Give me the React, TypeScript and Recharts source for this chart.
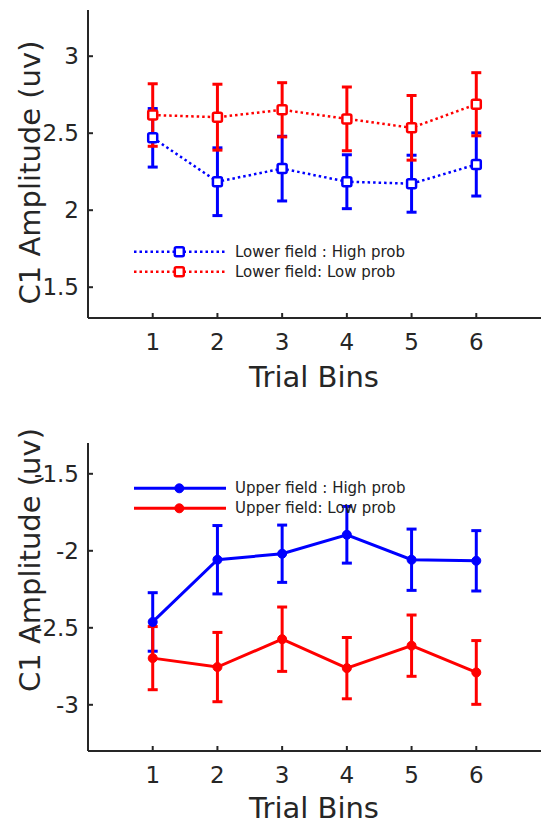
import React from 'react';
import { LineChart, Line, XAxis, YAxis, ErrorBar, Label } from 'recharts';

const FONT = '"DejaVu Sans", sans-serif';
const AXIS = '#262626';
const BLUE = '#0000ff';
const RED = '#ff0000';

// Trial bins (categories)
const bins = [1, 2, 3, 4, 5, 6];
const binTicks = [1, 2, 3, 4, 5, 6];

// Lower field (top panel)
const lowerHighMean = [2.47, 2.185, 2.27, 2.185, 2.172, 2.297];
const lowerHighErr = [0.19, 0.22, 0.21, 0.175, 0.185, 0.205];
const lowerLowMean = [2.618, 2.604, 2.652, 2.593, 2.535, 2.688];
const lowerLowErr = [0.203, 0.214, 0.176, 0.207, 0.21, 0.205];
const lowerTicks = [1.5, 2, 2.5, 3];
const lowerDomain = [1.3, 3.3];

// Upper field (bottom panel)
const upperHighMean = [-2.462, -2.058, -2.019, -1.896, -2.058, -2.065];
const upperHighErr = [0.19, 0.222, 0.186, 0.184, 0.199, 0.196];
const upperLowMean = [-2.697, -2.755, -2.574, -2.762, -2.616, -2.79];
const upperLowErr = [0.205, 0.225, 0.209, 0.199, 0.199, 0.207];
const upperTicks = [-3, -2.5, -2, -1.5];
const upperDomain = [-3.3, -1.3];

const lowerLabels = ['Lower field : High prob', 'Lower field: Low prob'];
const upperLabels = ['Upper field : High prob', 'Upper field: Low prob'];

const lowerData = bins.map((b, i) => ({
  bin: b,
  high: lowerHighMean[i],
  highErr: lowerHighErr[i],
  low: lowerLowMean[i],
  lowErr: lowerLowErr[i],
}));

const upperData = bins.map((b, i) => ({
  bin: b,
  high: upperHighMean[i],
  highErr: upperHighErr[i],
  low: upperLowMean[i],
  lowErr: upperLowErr[i],
}));

const squareDot = (color: string) => (p: any) => (
  <rect
    key={`sq-${color}-${p.index}`}
    x={p.cx - 4.5}
    y={p.cy - 4.5}
    width={9}
    height={9}
    rx={1.5}
    fill="#ffffff"
    stroke={color}
    strokeWidth={2.5}
  />
);

const DOTTED = '2.5 3';

const LegendBlock = ({ y0, labels, dotted }: { y0: number; labels: string[]; dotted: boolean }) => {
  const colors = [BLUE, RED];
  return (
    <g>
      {labels.map((lab, i) => {
        const y = y0 + i * 20;
        const c = colors[i];
        return (
          <g key={lab}>
            <line
              x1={134}
              x2={226}
              y1={y}
              y2={y}
              stroke={c}
              strokeWidth={dotted ? 2.5 : 3}
              strokeDasharray={dotted ? DOTTED : undefined}
            />
            {dotted ? (
              <rect x={179.3 - 4.5} y={y - 4.5} width={9} height={9} rx={1.5} fill="#fff" stroke={c} strokeWidth={2.5} />
            ) : (
              <circle cx={179.3} cy={y} r={4.5} fill={c} stroke={c} />
            )}
            <text x={235} y={y} dominantBaseline="central" fontSize={15} fontFamily={FONT} fill="#222">
              {lab}
            </text>
          </g>
        );
      })}
    </g>
  );
};

const Panel = ({
  data,
  domain,
  ticks,
  dotted,
  labels,
  legendY,
  yLabelCenter,
  height,
  marginTop,
  xLabelY,
}: {
  data: any[];
  domain: number[];
  ticks: number[];
  dotted: boolean;
  labels: string[];
  legendY: number;
  yLabelCenter: number;
  height: number;
  marginTop: number;
  xLabelY: number;
}) => (
  <LineChart width={541} height={height} data={data} margin={{ top: marginTop, right: 0, bottom: 0, left: 0 }}>
    <XAxis
      type="number"
      dataKey="bin"
      domain={[0, 7]}
      ticks={binTicks}
      allowDataOverflow
      height={height - marginTop - 308}
      tickSize={-5}
      tickMargin={21}
      axisLine={{ stroke: AXIS, strokeWidth: 2 }}
      tickLine={{ stroke: AXIS, strokeWidth: 2 }}
      tick={{ fill: AXIS, fontSize: 23, fontFamily: FONT }}
    >
      <Label
        content={() => (
          <text x={314} y={xLabelY} textAnchor="middle" fontSize={29} fontFamily={FONT} fill={AXIS}>
            Trial Bins
          </text>
        )}
      />
    </XAxis>
    <YAxis
      type="number"
      domain={domain}
      ticks={ticks}
      allowDataOverflow
      width={88}
      tickSize={-5}
      tickMargin={14}
      axisLine={{ stroke: AXIS, strokeWidth: 2 }}
      tickLine={{ stroke: AXIS, strokeWidth: 2 }}
      tick={{ fill: AXIS, fontSize: 23, fontFamily: FONT }}
    >
      <Label
        content={() => (
          <g>
            <text
              x={40}
              y={yLabelCenter}
              transform={`rotate(-90 40 ${yLabelCenter})`}
              textAnchor="middle"
              fontSize={29}
              fontFamily={FONT}
              fill={AXIS}
            >
              C1 Amplitude (uv)
            </text>
            <LegendBlock y0={legendY} labels={labels} dotted={dotted} />
          </g>
        )}
      />
    </YAxis>
    <Line
      dataKey="high"
      stroke={BLUE}
      strokeWidth={dotted ? 2.5 : 3}
      strokeDasharray={dotted ? DOTTED : undefined}
      dot={dotted ? squareDot(BLUE) : { r: 4.5, fill: BLUE, stroke: BLUE, strokeWidth: 1 }}
      activeDot={false}
      isAnimationActive={false}
    >
      <ErrorBar dataKey="highErr" direction="y" width={5} strokeWidth={3} stroke={BLUE} />
    </Line>
    <Line
      dataKey="low"
      stroke={RED}
      strokeWidth={dotted ? 2.5 : 3}
      strokeDasharray={dotted ? DOTTED : undefined}
      dot={dotted ? squareDot(RED) : { r: 4.5, fill: RED, stroke: RED, strokeWidth: 1 }}
      activeDot={false}
      isAnimationActive={false}
    >
      <ErrorBar dataKey="lowErr" direction="y" width={5} strokeWidth={3} stroke={RED} />
    </Line>
  </LineChart>
);

export default function App() {
  return (
    <div
      style={{
        position: 'absolute',
        left: 0,
        top: 0,
        width: 541,
        height: 824,
        overflow: 'hidden',
        background: '#ffffff',
        fontFamily: FONT,
      }}
    >
      <div style={{ position: 'absolute', left: 0, top: 0 }}>
        <Panel
          data={lowerData}
          domain={lowerDomain}
          ticks={lowerTicks}
          dotted={true}
          labels={lowerLabels}
          legendY={251.7}
          yLabelCenter={172.5}
          height={405}
          marginTop={10}
          xLabelY={387}
        />
      </div>
      <div style={{ position: 'absolute', left: 0, top: 413 }}>
        <Panel
          data={upperData}
          domain={upperDomain}
          ticks={upperTicks}
          dotted={false}
          labels={upperLabels}
          legendY={75.3}
          yLabelCenter={147}
          height={411}
          marginTop={30}
          xLabelY={405}
        />
      </div>
    </div>
  );
}
